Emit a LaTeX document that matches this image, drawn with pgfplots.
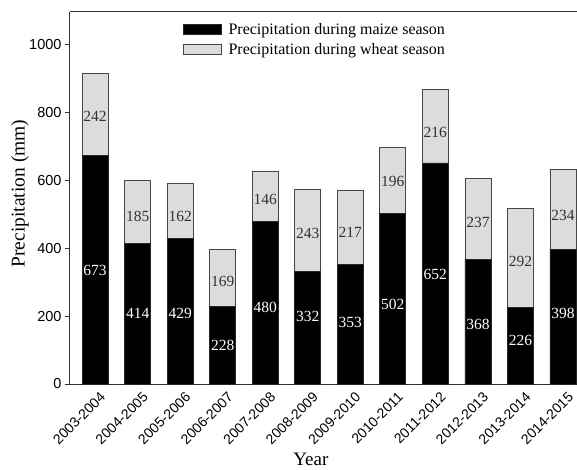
\documentclass[border=0pt]{standalone}
\usepackage{fontspec}
\setmainfont{Liberation Serif}
\newfontfamily\arial{Liberation Sans}
\usepackage{pgfplots}
\usepackage{pgfplotstable}
\pgfplotsset{compat=1.18}
\definecolor{wheatgray}{RGB}{220,220,220}
\definecolor{edgegray}{RGB}{70,70,70}

\pgfplotstableread{
x maize wheat total
0 673 242 915
1 414 185 599
2 429 162 591
3 228 169 397
4 480 146 626
5 332 243 575
6 353 217 570
7 502 196 698
8 652 216 868
9 368 237 605
10 226 292 518
11 398 234 632
}\datatable

\pgfplotstableread{
x lab ly
0 673 336
1 414 209
2 429 209
3 228 115
4 480 227
5 332 198
6 353 183
7 502 236
8 652 324
9 368 177
10 226 127
11 398 209
}\maizelab

\pgfplotstableread{
x lab ly
0 242 788
1 185 493
2 162 493
3 169 301
4 146 543
5 243 445
6 217 448
7 196 596
8 216 743
9 237 475
10 292 360
11 234 496
}\wheatlab

\begin{document}
\begin{tikzpicture}
\begin{axis}[
  scale only axis,
  width=507pt, height=372pt,
  xmin=-0.59, xmax=11.33,
  ymin=0, ymax=1097,
  axis lines=left,
  axis line style={line width=1pt, color=black!80, -},
  clip=false,
  xtick={0,...,11},
  xticklabels={2003-2004,2004-2005,2005-2006,2006-2007,2007-2008,2008-2009,2009-2010,2010-2011,2011-2012,2012-2013,2013-2014,2014-2015},
  x tick label style={rotate=45, anchor=north east, font=\arial\fontsize{14}{16}\selectfont, xshift=5pt, yshift=-1pt},
  major x tick style={draw=none},
  ytick={0,200,400,600,800,1000},
  y tick label style={font=\arial\fontsize{14.5}{16}\selectfont},
  /pgf/number format/assume math mode=true,
  /pgf/number format/1000 sep={},
  tick align=outside,
  major tick length=5pt,
  ytick style={line width=1pt, color=black!80},
  xlabel={Year},
  ylabel={Precipitation (mm)},
  xlabel style={font=\fontsize{19}{22}\selectfont, at={(axis description cs:0.475,0)}, anchor=center, yshift=-75pt},
  ylabel style={font=\fontsize{19.5}{22}\selectfont, at={(axis description cs:-0.0986,0.512)}, anchor=center},
  legend style={at={(0.222,0.975)}, anchor=north west, draw=none, fill=none,
    font=\fontsize{16}{18}\selectfont, row sep=3pt, column sep=5pt, inner sep=0pt,
    nodes={inner sep=2pt}},
  legend cell align=left,
  reverse legend,
  legend image code/.code={\draw[#1] (0pt,-5pt) rectangle (38pt,5pt);},
]
\addplot[ybar, bar width=26pt, bar shift=0pt, fill=wheatgray, draw=edgegray, line width=0.8pt]
  table[x=x, y=total] {\datatable};
\addlegendentry{Precipitation during wheat season}
\addplot[ybar, bar width=26pt, bar shift=0pt, fill=black, draw=black!85, line width=0.8pt]
  table[x=x, y=maize] {\datatable};
\addlegendentry{Precipitation during maize season}

\addplot[forget plot, draw=none, nodes near coords, point meta=explicit symbolic,
  every node near coord/.append style={anchor=center, text=white, font=\fontsize{15.5}{17}\selectfont}]
  table[x=x, y=ly, meta=lab] {\maizelab};
\addplot[forget plot, draw=none, nodes near coords, point meta=explicit symbolic,
  every node near coord/.append style={anchor=center, text=black!80, font=\fontsize{15.5}{17}\selectfont}]
  table[x=x, y=ly, meta=lab] {\wheatlab};

\draw[line width=1pt, color=black!80] (rel axis cs:0,1) -- (rel axis cs:1,1);
\end{axis}
\pgfresetboundingbox
\path (current axis.south west) ++(-70pt,-85pt) rectangle ++(577pt,469pt);
\end{tikzpicture}
\end{document}
